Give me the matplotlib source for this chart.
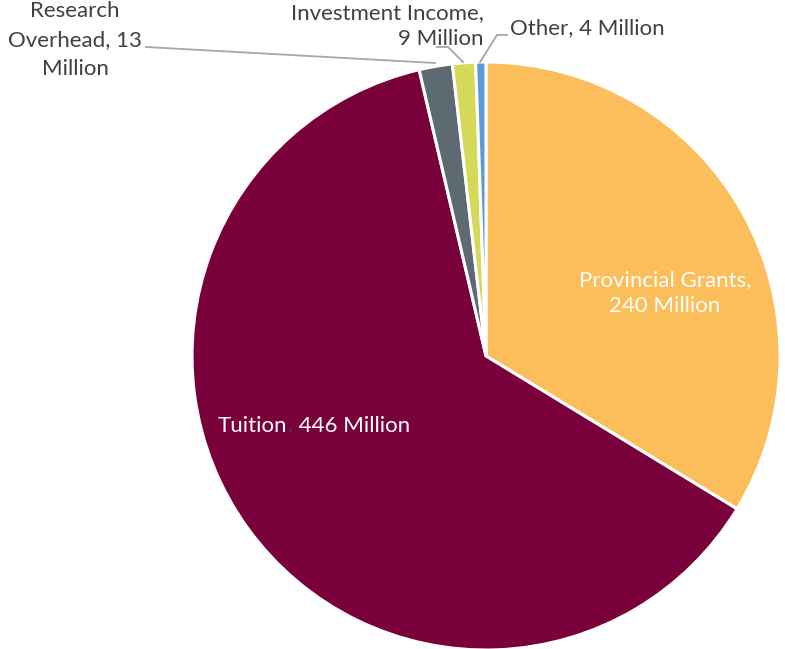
import matplotlib
matplotlib.use("Agg")
import matplotlib.pyplot as plt

categories = ["Provincial Grants", "Tuition", "Research Overhead", "Investment Income", "Other"]
values = [240, 446, 13, 9, 4]
colors = ["#FBBE5A", "#7A003C", "#5E6A71", "#D5D95A", "#5B9BD5"]

plt.rcParams['font.family'] = ['Lato', 'DejaVu Sans']

W, H = 785, 649
fig = plt.figure(figsize=(W / 100, H / 100), dpi=100)
ax = fig.add_axes([0, 0, 1, 1])

cx, cy, r = 486, 356, 294
# pie drawn in an inverted-y axis: counterclock=True appears clockwise
ax.pie(values, colors=colors, startangle=-90, counterclock=True,
       center=(cx, cy), radius=r, frame=True,
       wedgeprops=dict(edgecolor='white', linewidth=2.2))
ax.set_xlim(0, W)
ax.set_ylim(H, 0)
ax.set_aspect('equal')
ax.axis('off')

fs = 16
dark = "#404040"
ax.text(75, 40, "Research\nOverhead, 13\nMillion", ha='center', va='center',
        fontsize=fs, color=dark, linespacing=1.55)
ax.text(484, 26, "Investment Income,\n9 Million", ha='right', va='center',
        fontsize=fs, color=dark, linespacing=1.42)
ax.text(510, 28, "Other, 4 Million", ha='left', va='center', fontsize=fs, color=dark)
ax.text(665, 293, "Provincial Grants,\n240 Million", ha='center', va='center',
        fontsize=fs, color='white', linespacing=1.42)

t1 = ax.text(218, 426, "Tuition", ha='left', va='center', fontsize=fs, color='white')
t2 = ax.annotate(",", xy=(1, 0), xycoords=t1, ha='left', va='bottom',
                 fontsize=fs, color='#3A3A3A')
ax.annotate(" 446 Million", xy=(1, 0), xycoords=t2, ha='left', va='bottom',
            fontsize=fs, color='white')

lc = "#A6A6A6"
ax.plot([146, 435], [47, 63], color=lc, lw=1.3)
ax.plot([437, 448, 463], [47, 47, 62], color=lc, lw=1.3)
ax.plot([507, 497, 480], [35, 35, 62], color=lc, lw=1.3)

fig.savefig("out.png", dpi=100)
